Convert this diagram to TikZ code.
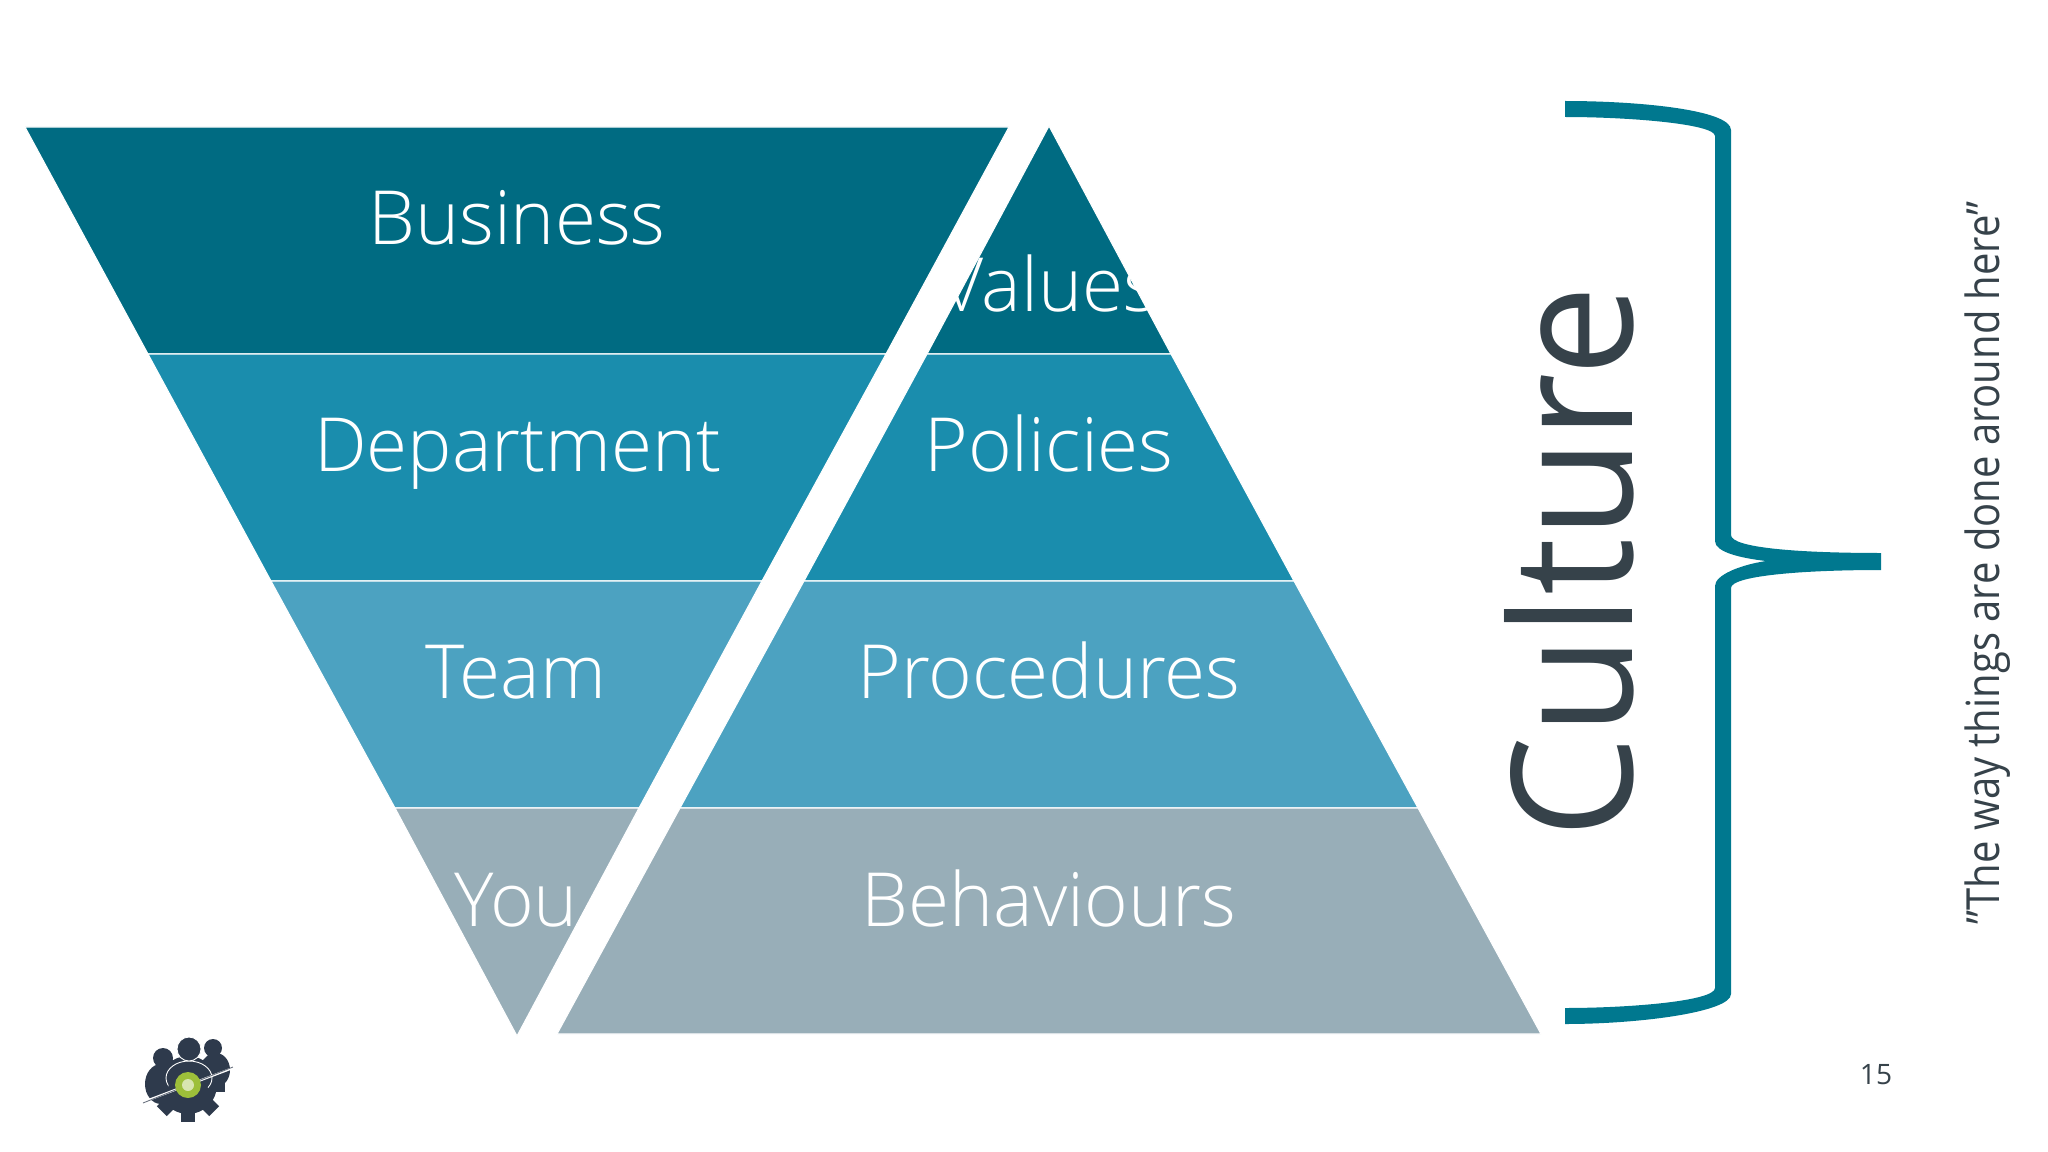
\documentclass[tikz,border=0pt]{standalone}
\usepackage{fontspec}
\setmainfont{Open Sans Light}[BoldFont={Open Sans}]
\newfontfamily\regfont{Open Sans}
\usetikzlibrary{positioning}
\definecolor{bandA}{HTML}{006B82}
\definecolor{bandB}{HTML}{1A8DAD}
\definecolor{bandC}{HTML}{4CA2C1}
\definecolor{bandD}{HTML}{98AEB8}
\definecolor{braceCol}{HTML}{00788F}
\definecolor{darkText}{HTML}{36424A}
\definecolor{logoDark}{HTML}{2E3A4C}
\definecolor{logoGreen}{HTML}{9DBF3A}

\begin{document}
\begin{tikzpicture}[
x=0.02cm, y=-0.02cm,
band/.style={draw=white, line width=0.6pt},
layer/.style={anchor=base, text=white, font=\fontsize{42.5}{50}\selectfont},
logo/.style={fill=logoDark, draw=none},
person/.style={fill=logoDark, draw=white, line width=0.5pt}
]
\useasboundingbox (0,0) rectangle (2048,1152);

%Left triangle
\fill[band, fill=bandA] (25,127) -- (1009,127) -- (886,354) -- (148,354) -- cycle;
\fill[band, fill=bandB] (148,354) -- (886,354) -- (762,581) -- (271,581) -- cycle;
\fill[band, fill=bandC] (271,581) -- (762,581) -- (639,808) -- (395,808) -- cycle;
\fill[band, fill=bandD] (395,808) -- (639,808) -- (517,1036) -- cycle;

%Right triangle
\fill[band, fill=bandA] (1049,126) -- (1171,354) -- (927,354) -- cycle;
\fill[band, fill=bandB] (927,354) -- (1171,354) -- (1294,581) -- (804,581) -- cycle;
\fill[band, fill=bandC] (804,581) -- (1294,581) -- (1418,808) -- (680,808) -- cycle;
\fill[band, fill=bandD] (680,808) -- (1418,808) -- (1541,1034) -- (557,1034) -- cycle;

%Nodes
\node[layer] (business)   at (517,245)  {Business};
\node[layer] (department) at (518,471)  {Department};
\node[layer] (team)       at (516,698)  {Team};
\node[layer] (you)        at (516,926)  {You};
\node[layer] (values)     at (1049,311) {Values};
\node[layer] (policies)   at (1049,471) {Policies};
\node[layer] (procedures) at (1049,698) {Procedures};
\node[layer] (behaviours) at (1049,926) {Behaviours};

\node[text=darkText, rotate=90, inner sep=0pt] (culture) at (1569,562)
  {\resizebox{11.04cm}{2.56cm}{\regfont Culture}};
\node[text=darkText, rotate=90, anchor=base, font=\fontsize{26}{30}\selectfont] (saying) at (1999,563)
  {\scalebox{0.875}[1]{\regfont ”The way things are done around here”}};
\node[text=darkText, font=\fontsize{16}{18}\selectfont] (pagenum) at (1876,1075) {\regfont 15};

%Brace
\fill[braceCol] (1565,101) .. controls (1640,101) and (1731,110) .. (1731,130)
  -- (1731,535) .. controls (1731,548) and (1800,553) .. (1881,553)
  -- (1881,570) .. controls (1800,570) and (1731,576) .. (1731,588)
  -- (1731,994) .. controls (1731,1012) and (1640,1024) .. (1565,1024)
  -- (1565,1008) .. controls (1630,1008) and (1715,1001) .. (1715,988)
  -- (1715,586) .. controls (1715,575) and (1740,565) .. (1766,561)
  .. controls (1740,558) and (1715,552) .. (1715,541)
  -- (1715,136) .. controls (1715,124) and (1630,117) .. (1565,117) -- cycle;

%Logo
\foreach \a in {0,45,...,315}
  \fill[logo, rotate around={\a:(188,1085)}] (181,1085) rectangle (195,1122);
\fill[logo] (188,1085) circle (29);
\fill[logo] (163,1058) circle (10);
\fill[logo] (213,1048) circle (9);
\fill[logo] (161,1084) ellipse (16 and 20);
\fill[logo] (216,1070) ellipse (14 and 17);
\filldraw[person] (189,1078) ellipse (23 and 17);
\filldraw[person] (189,1049) circle (12);
\fill[logo] (188,1090) circle (20);
\draw[white, line width=1.2pt] (143,1102) -- (233,1068);
\draw[logoDark!70, line width=0.5pt] (143,1103) -- (233,1067);
\fill[logoGreen] (188,1085) circle (13);
\fill[white!60!logoGreen] (188,1085) circle (6);
\end{tikzpicture}
\end{document}
